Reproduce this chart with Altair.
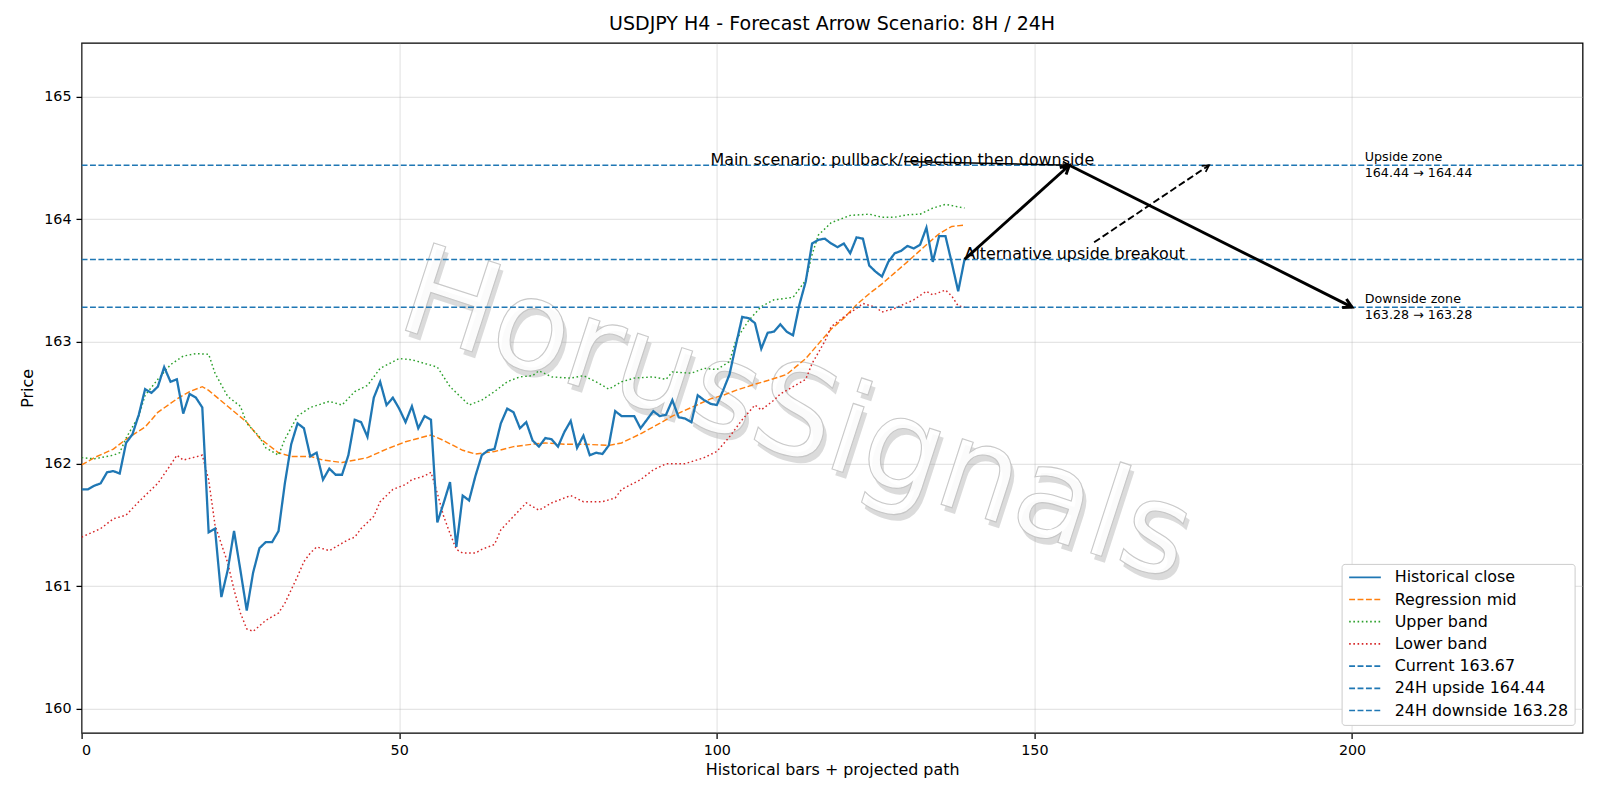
import math
import altair as alt
import pandas as pd

# ---------------- data ----------------
# H4 closes, one value per bar (bars 0..139)
hist_close = [
    161.79, 161.79, 161.82, 161.84, 161.93, 161.94, 161.92, 162.17, 162.24, 162.40,
    162.61, 162.58, 162.63, 162.79, 162.67, 162.69, 162.41, 162.57, 162.54, 162.46,
    161.44, 161.47, 160.91, 161.13, 161.45, 161.13, 160.80, 161.11, 161.31, 161.36,
    161.36, 161.45, 161.84, 162.16, 162.33, 162.29, 162.06, 162.09, 161.87, 161.96,
    161.91, 161.91, 162.07, 162.36, 162.34, 162.22, 162.54, 162.67, 162.48, 162.54,
    162.45, 162.34, 162.47, 162.29, 162.39, 162.36, 161.52, 161.68, 161.85, 161.32,
    161.74, 161.70, 161.90, 162.07, 162.11, 162.12, 162.33, 162.45, 162.42, 162.29,
    162.34, 162.19, 162.14, 162.21, 162.20, 162.14, 162.26, 162.35, 162.13, 162.23,
    162.07, 162.09, 162.08, 162.15, 162.43, 162.39, 162.39, 162.39, 162.29, 162.36,
    162.43, 162.39, 162.40, 162.52, 162.38, 162.37, 162.34, 162.56, 162.52, 162.49,
    162.48, 162.60, 162.73, 162.97, 163.20, 163.19, 163.15, 162.94, 163.07, 163.08,
    163.14, 163.08, 163.05, 163.30, 163.49, 163.80, 163.83, 163.84, 163.80, 163.77,
    163.80, 163.72, 163.85, 163.84, 163.62, 163.57, 163.53, 163.65, 163.72, 163.74,
    163.78, 163.76, 163.79, 163.93, 163.65, 163.86, 163.86, 163.64, 163.41, 163.67,
]

# regression channel (bar, price)
mid_x = [0, 2, 5, 7, 10, 12, 15, 17, 19, 20, 23, 26, 28, 31, 33, 36, 38, 41, 45, 48,
         51, 55, 57, 60, 62, 65, 68, 71, 73, 76, 79, 83, 85, 88, 91, 93, 96, 99, 101, 103,
         106, 108, 111, 114, 116, 118, 120, 122, 124, 126, 128, 130, 133, 135, 137, 139]
mid_y = [161.99, 162.05, 162.12, 162.20, 162.30, 162.42, 162.53, 162.59, 162.63, 162.60,
         162.47, 162.34, 162.21, 162.09, 162.06, 162.06, 162.03, 162.01, 162.05, 162.12,
         162.18, 162.235, 162.19, 162.11, 162.08, 162.10, 162.14, 162.16, 162.17, 162.16,
         162.16, 162.15, 162.17, 162.245, 162.33, 162.39, 162.46, 162.53, 162.56, 162.60,
         162.65, 162.68, 162.73, 162.86, 162.98, 163.10, 163.19, 163.30, 163.39, 163.47,
         163.56, 163.65, 163.79, 163.88, 163.94, 163.95]

upper_x = [0, 2, 5, 6, 7, 9, 10, 12, 14, 16, 18, 20, 21, 23, 25, 26, 28, 29, 31, 32,
           34, 36, 39, 41, 43, 45, 47, 50, 52, 54, 56, 58, 60, 61, 63, 65, 67, 69, 71, 72,
           74, 77, 79, 81, 83, 85, 87, 90, 92, 93, 96, 98, 100, 102, 103, 105, 107, 109, 112, 114,
           115, 116, 118, 121, 124, 126, 128, 130, 132, 134, 136, 138, 139]
upper_y = [162.05, 162.04, 162.07, 162.09, 162.21, 162.39, 162.56, 162.69, 162.81, 162.88,
           162.90, 162.895, 162.74, 162.55, 162.47, 162.33, 162.22, 162.13, 162.07, 162.20,
           162.39, 162.46, 162.51, 162.48, 162.59, 162.64, 162.78, 162.86, 162.85, 162.82,
           162.79, 162.63, 162.53, 162.48, 162.52, 162.59, 162.67, 162.71, 162.72, 162.76,
           162.71, 162.70, 162.72, 162.67, 162.61, 162.67, 162.70, 162.71, 162.69, 162.75,
           162.74, 162.78, 162.77, 162.835, 163.01, 163.17, 163.285, 163.34, 163.36, 163.50,
           163.71, 163.87, 163.97, 164.03, 164.04, 164.015, 164.015, 164.035, 164.04, 164.09,
           164.12, 164.10, 164.09]

lower_x = [0, 3, 5, 7, 9, 12, 14, 15, 16, 19, 20, 21, 23, 24, 25, 26, 27, 29, 31, 32,
           34, 35, 36, 37, 39, 40, 42, 43, 44, 46, 47, 49, 51, 52, 54, 55, 56, 57, 58, 59,
           60, 62, 63, 65, 66, 68, 70, 72, 74, 77, 79, 82, 84, 85, 88, 90, 92, 95, 98, 100,
           102, 104, 106, 107, 109, 110, 112, 114, 115, 117, 118, 120, 122, 123, 125, 126, 128, 131,
           133, 134, 136, 137, 138, 139]
lower_y = [161.40, 161.47, 161.55, 161.58, 161.69, 161.84, 161.99, 162.07, 162.03, 162.07,
           161.87, 161.50, 161.19, 160.97, 160.78, 160.65, 160.63, 160.72, 160.78, 160.86,
           161.08, 161.20, 161.27, 161.32, 161.29, 161.32, 161.38, 161.40, 161.47, 161.57,
           161.69, 161.79, 161.83, 161.87, 161.90, 161.93, 161.76, 161.57, 161.43, 161.30,
           161.27, 161.27, 161.30, 161.34, 161.46, 161.57, 161.68, 161.62, 161.68, 161.74,
           161.69, 161.69, 161.72, 161.79, 161.87, 161.95, 162.00, 162.00, 162.05, 162.10,
           162.22, 162.36, 162.48, 162.44, 162.52, 162.57, 162.63, 162.69, 162.82, 163.00,
           163.12, 163.20, 163.27, 163.31, 163.28, 163.24, 163.27, 163.34, 163.41, 163.38,
           163.42, 163.37, 163.29, 163.28]

current_level = 163.67
upside_level = 164.44
downside_level = 163.28

# projected main path: current -> pullback high -> downside target
path_x = [139, 155.5, 200]
path_y = [163.67, 164.44, 163.28]
# alternative breakout arrow (tail, head)
alt_x = [159.4, 177.5]
alt_y = [163.81, 164.44]
# connector from the main-scenario caption to the pullback high
cap_x = [129.5, 155.5]
cap_y = [164.47, 164.44]

x_ticks = [0, 50, 100, 150, 200]
y_ticks = [160, 161, 162, 163, 164, 165]

# ---------------- layout ----------------
X_MIN, X_MAX = 0, 236.3
Y_MIN, Y_MAX = 159.8, 165.44
W, H = 1501, 690
SX = W / (X_MAX - X_MIN)
SY = H / (Y_MAX - Y_MIN)
FONT = "DejaVu Sans"

names = ["Historical close", "Regression mid", "Upper band", "Lower band",
         f"Current {current_level:.2f}", f"24H upside {upside_level:.2f}",
         f"24H downside {downside_level:.2f}"]
colors = ["#1f77b4", "#ff7f0e", "#2ca02c", "#d62728", "#1f77b4", "#1f77b4", "#1f77b4"]
DASH = [5.9, 2.5]
DOT = [1.6, 2.6]
dashes = [[1, 0], DASH, DOT, DOT, DASH, DASH, DASH]

rows = []
rows += [{"x": i, "y": v, "s": names[0]} for i, v in enumerate(hist_close)]
rows += [{"x": a, "y": b, "s": names[1]} for a, b in zip(mid_x, mid_y)]
rows += [{"x": a, "y": b, "s": names[2]} for a, b in zip(upper_x, upper_y)]
rows += [{"x": a, "y": b, "s": names[3]} for a, b in zip(lower_x, lower_y)]
for name, lvl in zip(names[4:], [current_level, upside_level, downside_level]):
    rows += [{"x": X_MIN, "y": lvl, "s": name}, {"x": X_MAX, "y": lvl, "s": name}]
lines_df = pd.DataFrame(rows)

xs = alt.Scale(domain=[X_MIN, X_MAX], nice=False, zero=False)
ys = alt.Scale(domain=[Y_MIN, Y_MAX], nice=False, zero=False)

X = alt.X("x:Q", scale=xs, axis=alt.Axis(values=x_ticks, format="d", title="Historical bars + projected path"))
Y = alt.Y("y:Q", scale=ys, axis=alt.Axis(values=y_ticks, format="d", title="Price"))

legend = alt.Legend(title=None, orient="bottom-right", offset=7.9, symbolType="stroke",
                    symbolSize=1005, symbolStrokeWidth=1.7, clipHeight=14,
                    labelFontSize=15.9, labelFont=FONT, labelColor="black", labelLimit=400,
                    rowPadding=6.2, padding=6.4, fillColor="white", strokeColor="#cccccc",
                    cornerRadius=3, labelOffset=12.7)
color_enc = alt.Color("s:N", scale=alt.Scale(domain=names, range=colors), legend=legend, sort=names)
dash_enc = alt.StrokeDash("s:N", scale=alt.Scale(domain=names, range=dashes), legend=legend, sort=names)

close_line = alt.Chart(lines_df[lines_df.s == names[0]]).mark_line(clip=True, strokeWidth=2.3).encode(
    x=X, y=Y, color=color_enc, strokeDash=dash_enc)
other_lines = alt.Chart(lines_df[lines_df.s != names[0]]).mark_line(clip=True, strokeWidth=1.45).encode(
    x=X, y=Y, color=color_enc, strokeDash=dash_enc)

# watermark
wm_df = pd.DataFrame({"x": [112.5], "y": [162.38], "t": ["HorusSignals"]})
wm_shadow = alt.Chart(wm_df).mark_text(font=FONT, fontSize=126, angle=18, color="#9a9a9a",
                                       opacity=0.35, dx=5, dy=5).encode(
    x=alt.X("x:Q", scale=xs), y=alt.Y("y:Q", scale=ys), text="t:N")
wm_main = alt.Chart(wm_df).mark_text(font=FONT, fontSize=126, angle=18, color="white",
                                     stroke="#c4c4c4", strokeWidth=1.1, opacity=0.9).encode(
    x=alt.X("x:Q", scale=xs), y=alt.Y("y:Q", scale=ys), text="t:N")

# arrows: segments
seg_df = pd.DataFrame({"x": path_x[:-1], "y": path_y[:-1], "x2": path_x[1:], "y2": path_y[1:]})
main_segs = alt.Chart(seg_df).mark_rule(color="black", strokeWidth=2.9).encode(
    x=alt.X("x:Q", scale=xs), y=alt.Y("y:Q", scale=ys), x2="x2:Q", y2="y2:Q")

cap_df = pd.DataFrame({"x": [cap_x[0]], "y": [cap_y[0]], "x2": [cap_x[1]], "y2": [cap_y[1]]})
cap_seg = alt.Chart(cap_df).mark_rule(color="black", strokeWidth=1.5).encode(
    x=alt.X("x:Q", scale=xs), y=alt.Y("y:Q", scale=ys), x2="x2:Q", y2="y2:Q")

alt_df = pd.DataFrame({"x": [alt_x[0]], "y": [alt_y[0]], "x2": [alt_x[1]], "y2": [alt_y[1]]})
alt_seg = alt.Chart(alt_df).mark_rule(color="black", strokeWidth=1.9, strokeDash=[7, 3.2]).encode(
    x=alt.X("x:Q", scale=xs), y=alt.Y("y:Q", scale=ys), x2="x2:Q", y2="y2:Q")


def head_angle(x0, y0, x1, y1):
    return math.degrees(math.atan2((x1 - x0) * SX, (y1 - y0) * SY)) % 360


heads = pd.DataFrame([
    {"x": path_x[1], "y": path_y[1], "a": head_angle(path_x[0], path_y[0], path_x[1], path_y[1]), "k": "thick"},
    {"x": path_x[2], "y": path_y[2], "a": head_angle(path_x[1], path_y[1], path_x[2], path_y[2]), "k": "thick"},
    {"x": cap_x[1], "y": cap_y[1], "a": head_angle(cap_x[0], cap_y[0], cap_x[1], cap_y[1]), "k": "thin"},
    {"x": alt_x[1], "y": alt_y[1], "a": head_angle(alt_x[0], alt_y[0], alt_x[1], alt_y[1]), "k": "thin"},
])
CHEVRON = "M-0.55,1 L0,0 L0.55,1"
thick_heads = alt.Chart(heads[heads.k == "thick"]).mark_point(
    shape=CHEVRON, filled=False, stroke="black", strokeWidth=2.9, size=300, opacity=1).encode(
    x=alt.X("x:Q", scale=xs), y=alt.Y("y:Q", scale=ys), angle=alt.Angle("a:Q", scale=None))
thin_heads = alt.Chart(heads[heads.k == "thin"]).mark_point(
    shape=CHEVRON, filled=False, stroke="black", strokeWidth=1.7, size=170, opacity=1).encode(
    x=alt.X("x:Q", scale=xs), y=alt.Y("y:Q", scale=ys), angle=alt.Angle("a:Q", scale=None))

# captions
cap_main = alt.Chart(pd.DataFrame({"x": [99], "y": [upside_level],
                                   "t": ["Main scenario: pullback/rejection then downside"]})).mark_text(
    font=FONT, fontSize=15.9, align="left", baseline="alphabetic", color="black").encode(
    x=alt.X("x:Q", scale=xs), y=alt.Y("y:Q", scale=ys), text="t:N")
cap_alt = alt.Chart(pd.DataFrame({"x": [139], "y": [current_level],
                                  "t": ["Alternative upside breakout"]})).mark_text(
    font=FONT, fontSize=15.9, align="left", baseline="alphabetic", color="black").encode(
    x=alt.X("x:Q", scale=xs), y=alt.Y("y:Q", scale=ys), text="t:N")

zone_df = pd.DataFrame({"x": [202, 202], "y": [upside_level, downside_level]})
up_zone = alt.Chart(zone_df.iloc[[0]]).mark_text(
    font=FONT, fontSize=12.7, align="left", baseline="middle", lineHeight=16.3, dy=-8.5,
    color="black").encode(
    x=alt.X("x:Q", scale=xs), y=alt.Y("y:Q", scale=ys),
    text=alt.value(["Upside zone", f"{upside_level:.2f} \u2192 {upside_level:.2f}"]))
down_zone = alt.Chart(zone_df.iloc[[1]]).mark_text(
    font=FONT, fontSize=12.7, align="left", baseline="middle", lineHeight=16.3, dy=-8.5,
    color="black").encode(
    x=alt.X("x:Q", scale=xs), y=alt.Y("y:Q", scale=ys),
    text=alt.value(["Downside zone", f"{downside_level:.2f} \u2192 {downside_level:.2f}"]))

chart = alt.layer(
    wm_shadow, wm_main, other_lines, close_line, main_segs, cap_seg, alt_seg, thick_heads, thin_heads,
    cap_main, cap_alt, up_zone, down_zone,
).properties(
    width=W, height=H, background="white",
    title=alt.TitleParams("USDJPY H4 - Forecast Arrow Scenario: 8H / 24H", font=FONT, fontSize=19,
                          fontWeight="normal", color="black", anchor="middle", baseline="alphabetic",
                          offset=11, dy=17),
    autosize=alt.AutoSizeParams(type="none"),
    padding={"left": 81.6, "top": 42.9, "right": 1600 - 81.6 - W, "bottom": 800 - 42.9 - H},
).configure_view(stroke="black", strokeWidth=1.27).configure_axis(
    labelFont=FONT, labelFontSize=14.3, labelColor="black", titleFont=FONT, titleFontSize=15.9,
    titleFontWeight="normal", titleColor="black", tickColor="black", tickSize=5.6, tickWidth=1.27,
    labelPadding=5.0, domain=False, grid=True, gridColor="#b0b0b0", gridOpacity=0.33, gridWidth=1.2,
).configure_axisX(titlePadding=4).configure_axisY(titlePadding=8, labelAngle=0)

chart.save("out.html", embed_options={"renderer": "svg", "actions": False})
